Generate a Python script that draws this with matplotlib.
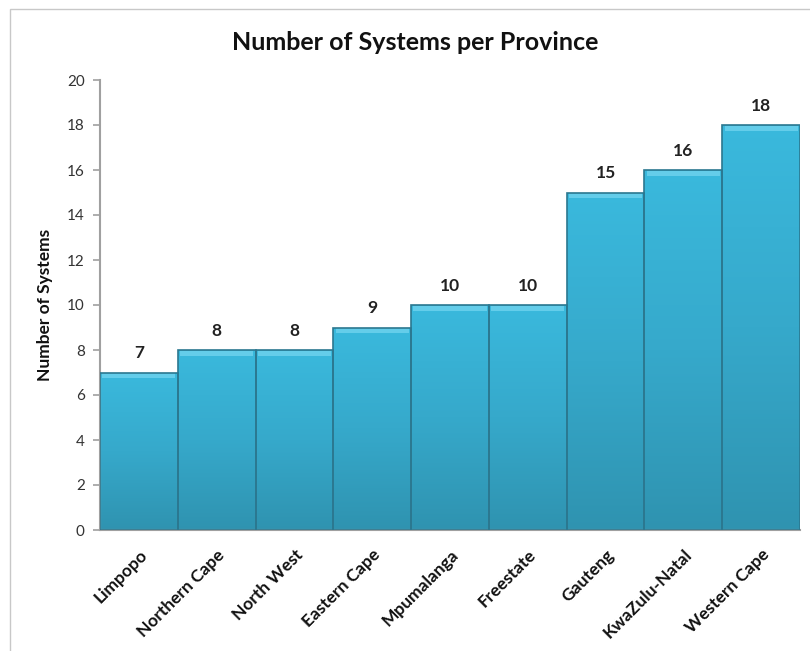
import matplotlib
matplotlib.use("Agg")
import matplotlib.pyplot as plt
import numpy as np
from matplotlib.patches import Rectangle
from matplotlib.colors import LinearSegmentedColormap

provinces = ["Limpopo", "Northern Cape", "North West", "Eastern Cape", "Mpumalanga",
             "Freestate", "Gauteng", "KwaZulu-Natal", "Western Cape"]
systems = [7, 8, 8, 9, 10, 10, 15, 16, 18]
yticks = [0, 2, 4, 6, 8, 10, 12, 14, 16, 18, 20]

plt.rcParams['font.family'] = ['Lato', 'DejaVu Sans']

fig = plt.figure(figsize=(8.10, 6.51), dpi=100)
fig.patch.set_facecolor('white')
# outer chart frame
fig.patches.append(Rectangle((9.5/810, -0.01), 1.02, 1 - 8.5/651 + 0.01, transform=fig.transFigure,
                             fill=False, edgecolor='#c8c8c8', linewidth=1.0))

ax = fig.add_axes([100/810, 1 - 530/651, 700/810, 450/651])
x = np.arange(len(provinces))
ax.set_xlim(-0.5, len(provinces) - 0.5)
ax.set_ylim(0, 20)

cmap = LinearSegmentedColormap.from_list('g', ['#2f93b0', '#36a9cb', '#3ab9dd'])
grad = np.linspace(0, 1, 256).reshape(-1, 1)
for xi, v in zip(x, systems):
    rect = Rectangle((xi - 0.5, 0), 1.0, v, facecolor='none', edgecolor='#2b7890', linewidth=1.2, zorder=3)
    ax.add_patch(rect)
    im = ax.imshow(grad, extent=(xi - 0.5, xi + 0.5, 0, v), origin='lower', cmap=cmap,
                   aspect='auto', zorder=2)
    im.set_clip_path(rect)
    # bevel highlight at top
    ax.add_patch(Rectangle((xi - 0.47, v - 0.25), 0.94, 0.22, facecolor='#6fd3ee', edgecolor='none',
                           alpha=0.8, zorder=2.5))
    ax.text(xi, v + 0.5, str(v), ha='center', va='bottom', fontsize=12.5, fontweight='bold', color='#222222')

ax.set_xlim(-0.5, len(provinces) - 0.5)
ax.set_ylim(0, 20)
ax.set_yticks(yticks)
ax.set_yticklabels([str(t) for t in yticks], fontsize=11, color='#333333')
ax.set_xticks(x)
ax.set_xticklabels(provinces, rotation=45, ha='right', rotation_mode='anchor', fontsize=12.5,
                   fontweight='bold', color='#111111')
ax.tick_params(axis='x', length=0, pad=12)
ax.tick_params(axis='y', length=5, color='#a0a0a0', width=1.2, pad=6)
for s in ['top', 'right']:
    ax.spines[s].set_visible(False)
for s in ['left', 'bottom']:
    ax.spines[s].set_color('#a0a0a0')
    ax.spines[s].set_linewidth(1.5)
ax.set_ylabel('Number of Systems', fontsize=12.5, fontweight='bold', color='#111111', labelpad=10)
fig.text(415/810, 1 - 42/651, 'Number of Systems per Province', ha='center', va='center',
         fontsize=18, fontweight='bold', color='#111111')

fig.savefig('out.png', dpi=100, facecolor='white')
